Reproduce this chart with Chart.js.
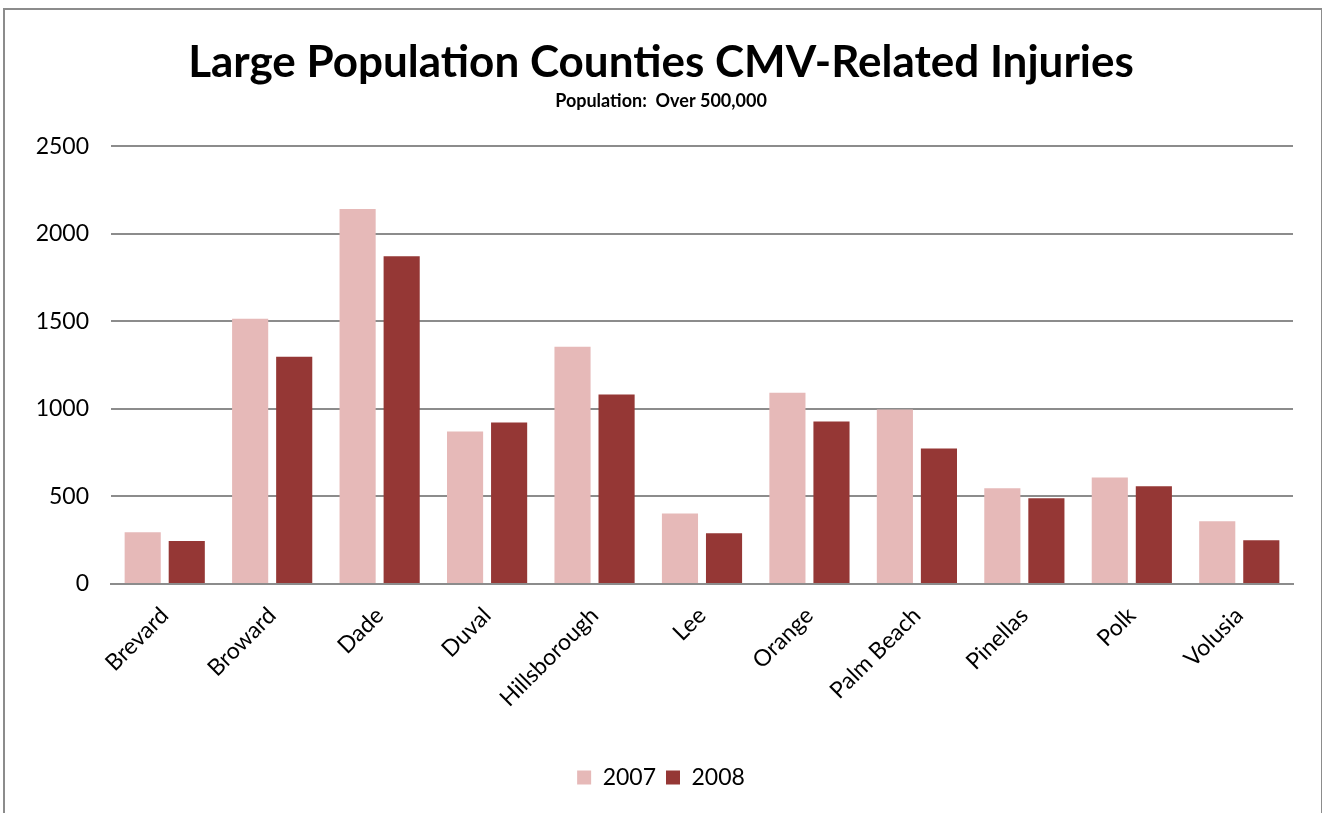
<!DOCTYPE html>
<html>
<head>
<meta charset="utf-8">
<script src="https://cdn.jsdelivr.net/npm/chart.js@4"></script>
<style>
  html, body { margin: 0; padding: 0; background: #fff; overflow: hidden; }
  #wrap {
    position: absolute; left: 3px; top: 8px;
    width: 1316px; height: 830px;
    border: 2px solid #8c8c8c; background: #fff;
  }
</style>
</head>
<body>
<div id="wrap"><canvas id="injuryChart"></canvas></div>
<script>
// counties and injury counts
const counties = ["Brevard", "Broward", "Dade", "Duval", "Hillsborough", "Lee", "Orange", "Palm Beach", "Pinellas", "Polk", "Volusia"];
const injuries2007 = [296, 1516, 2142, 871, 1355, 403, 1093, 997, 547, 609, 358];
const injuries2008 = [245, 1298, 1872, 922, 1083, 290, 928, 774, 490, 558, 250];
const yTicks = [0, 500, 1000, 1500, 2000, 2500];

const fontFam = "Lato, 'Open Sans', sans-serif";

const ctx = document.getElementById("injuryChart");
ctx.width = 1316;
ctx.height = 800;

new Chart(ctx, {
    type: "bar",
    data: {
        labels: counties,
        datasets: [
            { label: "2007", data: injuries2007, backgroundColor: "#E6B9B8" },
            { label: "2008", data: injuries2008, backgroundColor: "#953735" }
        ]
    },
    options: {
        responsive: false,
        animation: false,
        layout: { padding: { left: 24, right: 28, top: 10, bottom: 11 } },
        plugins: {
            title: {
                display: true,
                text: "Large Population Counties CMV-Related Injuries",
                color: "#000",
                font: { family: fontFam, size: 44, weight: "bold" },
                padding: { top: 16, bottom: 2 }
            },
            subtitle: {
                display: true,
                text: "Population:  Over 500,000",
                color: "#000",
                font: { family: fontFam, size: 18, weight: "bold" },
                padding: { top: 0, bottom: 34 }
            },
            legend: {
                position: "bottom",
                labels: {
                    color: "#000",
                    font: { family: fontFam, size: 23 },
                    boxWidth: 14, boxHeight: 14,
                    padding: 10
                }
            },
            tooltip: { enabled: false }
        },
        datasets: {
            bar: { categoryPercentage: 0.82, barPercentage: 0.82 }
        },
        scales: {
            x: {
                grid: { display: false },
                border: { color: "#8c8c8c", width: 2 },
                ticks: {
                    color: "#000",
                    font: { family: fontFam, size: 23 },
                    minRotation: 45, maxRotation: 45,
                    padding: 10
                },
                afterFit: (scale) => { scale.height = 172; }
            },
            y: {
                min: 0, max: 2500,
                afterBuildTicks: (scale) => { scale.ticks = yTicks.map(v => ({ value: v })); },
                grid: { color: "#8c8c8c", lineWidth: 2, drawTicks: false },
                border: { display: false },
                ticks: {
                    color: "#000",
                    font: { family: fontFam, size: 23 },
                    padding: 22,
                    callback: (v) => String(v)
                },
                afterFit: (scale) => { scale.width = 82; }
            }
        }
    }
});
</script>
</body>
</html>
